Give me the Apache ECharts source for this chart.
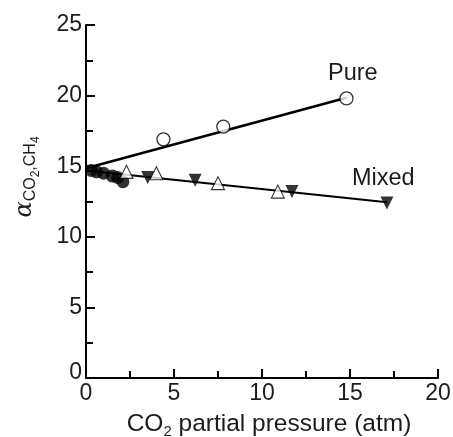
<!DOCTYPE html>
<html><head><meta charset="utf-8">
<script src="https://cdn.jsdelivr.net/npm/echarts@6/dist/echarts.min.js"></script>
<style>html,body{margin:0;padding:0;background:#fff}#c{width:453px;height:437px}</style>
</head><body><div id="c"></div>
<script>
// Pure gas: open circles
const pureX = [4.4, 7.8, 14.8];
const pureY = [16.9, 17.8, 19.8];
// Pure fit line endpoints
const pureFitX = [0, 14.8];
const pureFitY = [14.85, 19.85];
// Mixed gas: filled circles
const mixCircX = [0.3, 0.6, 1.0, 1.5, 1.8, 2.1];
const mixCircY = [14.7, 14.6, 14.5, 14.3, 14.2, 13.9];
// Mixed gas: open triangles
const mixTriX = [2.3, 4.0, 7.5, 10.9];
const mixTriY = [14.6, 14.5, 13.8, 13.2];
// Mixed gas: filled down triangles
const mixDownX = [3.5, 6.2, 11.7, 17.1];
const mixDownY = [14.2, 14.0, 13.2, 12.4];
// Mixed fit line endpoints
const mixFitX = [0, 17.1];
const mixFitY = [14.7, 12.45];

const xTicks = [0, 5, 10, 15, 20];
const yTicks = [0, 5, 10, 15, 20, 25];

const zip = (a, b) => a.map((v, i) => [v, b[i]]);
const font = 'Liberation Sans, Arial, sans-serif';
const col = '#1c1c1c';

const chart = echarts.init(document.getElementById('c'), null, {renderer: 'canvas'});
const axisCommon = {
  axisLine: {show: true, lineStyle: {color: '#000', width: 2}},
  axisTick: {show: true, inside: true, length: 9, lineStyle: {color: '#000', width: 2}},
  minorTick: {show: true, splitNumber: 2, length: 7, lineStyle: {color: '#000', width: 2}},
  splitLine: {show: false}
};
chart.setOption({
  animation: false,
  grid: {left: 86, right: 15, top: 25, bottom: 59, containLabel: false, outerBoundsMode: 'none'},
  xAxis: Object.assign({}, axisCommon, {
    type: 'value', min: xTicks[0], max: xTicks[xTicks.length - 1], interval: 5,
    axisLabel: {color: col, fontSize: 23, fontFamily: font, margin: 4},
    name: '{n|CO}{s|2}{n| partial pressure (atm)}',
    nameLocation: 'middle', nameGap: 32,
    nameTextStyle: {padding: [0, 0, 0, 14], rich: {
      n: {fontSize: 24.5, color: col, fontFamily: font},
      s: {fontSize: 15, color: col, fontFamily: font, padding: [14, 0, 0, 0]}
    }}
  }),
  yAxis: Object.assign({}, axisCommon, {
    type: 'value', min: yTicks[0], max: yTicks[yTicks.length - 1], interval: 5,
    axisLabel: {color: col, fontSize: 23, fontFamily: font, margin: 4,
      formatter: v => v === 0 ? '{z|0}' : String(v),
      rich: {z: {fontSize: 23, color: col, fontFamily: font, padding: [0, 0, 10, 0]}}}
  }),
  series: [
    {type: 'line', data: zip(pureFitX, pureFitY), symbol: 'none', lineStyle: {color: '#000', width: 2.6}, z: 1},
    {type: 'line', data: zip(mixFitX, mixFitY), symbol: 'none', lineStyle: {color: '#000', width: 2}, z: 1},
    {type: 'scatter', data: zip(pureX, pureY), symbol: 'circle', symbolSize: 13,
      itemStyle: {color: '#fff', borderColor: '#000', borderWidth: 1.3}, z: 3},
    {type: 'scatter', data: zip(mixCircX, mixCircY), symbol: 'circle', symbolSize: 13,
      itemStyle: {color: '#000'}, z: 3},
    {type: 'scatter', data: zip(mixTriX, mixTriY), symbol: 'triangle', symbolSize: 13,
      itemStyle: {color: '#fff', borderColor: '#000', borderWidth: 1.1}, z: 3},
    {type: 'scatter', data: zip(mixDownX, mixDownY), symbol: 'triangle', symbolRotate: 180, symbolSize: 13,
      itemStyle: {color: '#000'}, z: 3}
  ],
  graphic: [
    {type: 'text', x: 328, y: 74, style: {text: 'Pure', fontSize: 23.5, fill: col, fontFamily: font, align: 'left', verticalAlign: 'middle'}},
    {type: 'text', x: 352, y: 179, style: {text: 'Mixed', fontSize: 23.5, fill: col, fontFamily: font, align: 'left', verticalAlign: 'middle'}},
    {type: 'text', x: 25, y: 177, rotation: Math.PI / 2,
      style: {text: '{a|α}{s|CO}{ss|2}{s|,CH}{ss|4}', align: 'center', verticalAlign: 'middle',
        rich: {
          a: {fontSize: 24, fill: col, fontFamily: 'DejaVu Serif, serif', fontStyle: 'italic'},
          s: {fontSize: 16, fill: col, fontFamily: font, padding: [12, 0, 0, 0]},
          ss: {fontSize: 12, fill: col, fontFamily: font, padding: [22, 0, 0, 0]}
        }}}
  ]
});
</script>
</body></html>
